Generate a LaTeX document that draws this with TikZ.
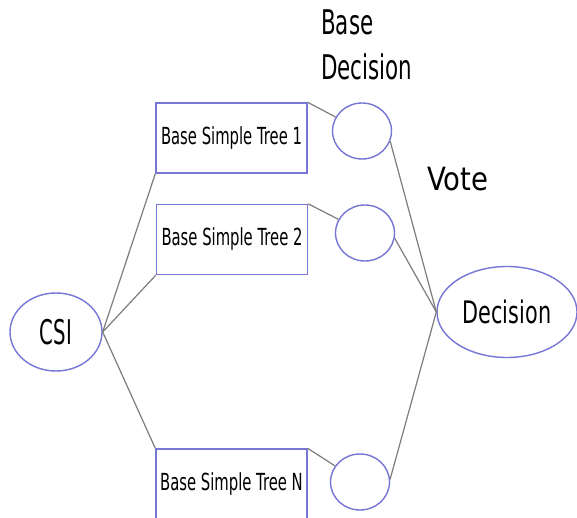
\documentclass[tikz,border=0pt]{standalone}
\usepackage{fontspec}
\setmainfont{DejaVu Sans}
\usetikzlibrary{shapes.geometric}
\definecolor{rim}{RGB}{118,118,212}
\definecolor{wire}{RGB}{125,125,125}
\newcommand{\squeezed}[2][0.63]{\scalebox{#1}[1]{#2}}
\tikzset{
	treebox/.style={draw=rim, line width=1.4pt, rectangle, inner sep=0pt, minimum width=151, minimum height=70},
	leaf/.style={draw=rim, line width=1.4pt, ellipse, inner sep=0pt, minimum width=59, minimum height=56},
	link/.style={draw=wire, line width=1.2pt},
}
\begin{document}
\begin{tikzpicture}[x=1pt, y=-1pt]
		%%%%% START %%%%%
		\clip (0, 0) rectangle (577, 518);
		\fill[white] (0, 0) rectangle (577, 518);
		
		% input and output
		\node[leaf, minimum width=92, minimum height=78, font=\fontsize{34}{34}\selectfont] (csi) at (56, 332) {\squeezed[0.58]{CSI}};
		\node[leaf, minimum width=140, minimum height=91, font=\fontsize{31}{31}\selectfont] (dec) at (507, 312) {\squeezed[0.67]{Decision}};
		
		% the base trees
		\node[treebox, font=\fontsize{23.5}{23.5}\selectfont] (t1) at (231.5, 138) {\squeezed{Base Simple Tree 1}};
		\node[treebox, font=\fontsize{23.5}{23.5}\selectfont] (t2) at (232, 239.5) {\squeezed{Base Simple Tree 2}};
		\node[treebox, minimum height=80, font=\fontsize{23.5}{23.5}\selectfont] (tN) at (231.5, 489) {};
		\node[font=\fontsize{23.5}{23.5}\selectfont] (tNtext) at (231.5, 484) {\squeezed{Base Simple Tree N}};
		
		% their decisions
		\node[leaf] (c1) at (362, 131) {};
		\node[leaf] (c2) at (365, 233) {};
		\node[leaf] (cN) at (360, 482) {};
		
		% labels
		\node[anchor=north west, align=left, inner sep=0pt, font=\fontsize{34}{45}\selectfont] (basedec) at (321, 10) {\squeezed{Base}\\\squeezed{Decision}};
		\node[anchor=north west, inner sep=0pt, font=\fontsize{32}{32}\selectfont] (vote) at (427, 167) {\squeezed[0.86]{Vote}};
		
		% wiring
		\draw[link] (csi.east) -- (t1.south west);
		\draw[link] (csi.east) -- (t2.south west);
		\draw[link] (csi.east) -- (tN.north west);
		
		\draw[link] (t1.north east) -- (c1);
		\draw[link] (t2.north east) -- (c2);
		\draw[link] (tN.north east) -- (cN);
		
		\draw[link] (c1.-20) -- (dec.west);
		\draw[link] (c2.-10) -- (dec.west);
		\draw[link] (cN.5) -- (dec.west);
		%%%%% END %%%%%
\end{tikzpicture}
\end{document}
